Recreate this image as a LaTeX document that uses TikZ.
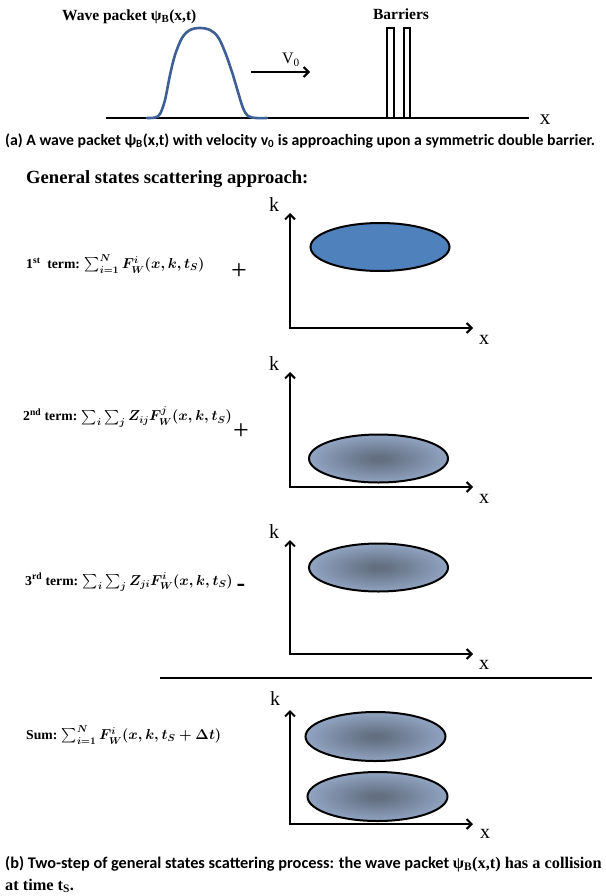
\documentclass[tikz,border=0pt]{standalone}
\usepackage{fontspec}
\setmainfont{Liberation Serif}
\newfontfamily\capfont{Carlito}
\usepackage{amsmath, bm}
\usetikzlibrary{arrows.meta}
\definecolor{packetblue}{RGB}{61,95,150}
\definecolor{fillblue}{RGB}{79,129,189}
\definecolor{blobmid}{RGB}{100,112,130}
\definecolor{blobmix}{RGB}{142,161,190}
\definecolor{blobedge}{RGB}{184,204,233}
\pgfdeclareradialshading{blobshade}{\pgfpoint{0bp}{0bp}}{color(0bp)=(blobmid); color(3bp)=(blobmid); color(24bp)=(blobmix); color(50bp)=(blobedge)}

\begin{document}
\begin{tikzpicture}[x=1pt, y=-1pt,
  toplbl/.style={font=\fontsize{15.5}{18}\selectfont\bfseries, inner sep=0pt},
  captxt/.style={font=\fontsize{15.8}{18}\selectfont\capfont\bfseries, inner sep=0pt, anchor=west},
  term/.style={font=\fontsize{13.7}{17}\selectfont\bfseries\boldmath, inner sep=0pt, anchor=west},
  axlbl/.style={font=\fontsize{20}{22}\selectfont, inner sep=0pt},
  axis/.style={line width=2pt, {Straight Barb[length=5pt,width=10pt]}-{Straight Barb[length=5pt,width=10pt]}},
  blob/.style={draw, line width=2pt, shading=blobshade},
  barrier/.style={draw, line width=1.5pt, fill=white}]
  \useasboundingbox (0,0) rectangle (605,896);

  % (a) wave packet and the double barrier
  \node[toplbl, anchor=west] (wavelbl) at (62,17) {Wave packet ψ\textsubscript{B}(x,t)};
  \node[toplbl] (barlbl) at (401,14) {Barriers};
  \coordinate (ba) at (106,118);
  \coordinate (bb) at (529,118);
  \draw[line width=2pt] (ba) -- (bb);
  \node[axlbl, font=\fontsize{21}{22}\selectfont] (xa) at (545,120) {x};
  \draw[packetblue, line width=2.6pt, line cap=round] plot[smooth, tension=0.55] coordinates {
    (147,118) (155,117.5) (160,114) (165,100) (170,75) (175,55) (182,38) (190,30) (200,28)
    (210,30) (218,37) (225,52) (232,72) (238,92) (243,108) (248,116) (256,118) (267,118)};
  \coordinate (va) at (251,72);
  \coordinate (vb) at (310,72);
  \draw[line width=2pt, -{Straight Barb[length=5pt,width=10pt]}] (va) -- (vb);
  \node[font=\fontsize{16}{18}\selectfont, inner sep=0pt] (vlbl) at (291,60) {V\textsubscript{0}};
  \draw[barrier] (387,118) rectangle (394,28);
  \draw[barrier] (404,118) rectangle (410,28);
  \node[captxt] (capa) at (5,141) {(a) A wave packet ψ\textsubscript{B}(x,t) with velocity v\textsubscript{0} is approaching upon a symmetric double barrier.};

  % (b) the terms of the scattering approach
  \node[font=\fontsize{18.6}{22}\selectfont\bfseries, inner sep=0pt, anchor=west] (head) at (26,179) {General states scattering approach:};

  \node[term] (term1) at (26,264) {1\textsuperscript{st}\ \ term: $\sum_{i=1}^{N} F_W^{i}(x,k,t_S)$};
  \node[font=\fontsize{28}{30}\selectfont, inner sep=0pt] (plus1) at (239,272) {+};
  \coordinate (k1) at (290,213);
  \coordinate (x1) at (473,328);
  \draw[axis] (k1) |- (x1);
  \node[axlbl] (klbl1) at (274,205) {k};
  \node[axlbl] (xlbl1) at (484,340) {x};
  \draw[line width=2pt, fill=fillblue] (380,247) ellipse [x radius=69.5pt, y radius=24pt];

  \node[term] (term2) at (23,417) {2\textsuperscript{nd}\ term: $\sum_{i}\sum_{j} Z_{ij}F_W^{j}(x,k,t_S)$};
  \node[font=\fontsize{28}{30}\selectfont, inner sep=0pt] (plus2) at (241,432) {+};
  \coordinate (k2) at (290,372);
  \coordinate (x2) at (473,487);
  \draw[axis] (k2) |- (x2);
  \node[axlbl] (klbl2) at (274,364) {k};
  \node[axlbl] (xlbl2) at (484,499) {x};
  \draw[blob] (378.5,458.5) ellipse [x radius=69.5pt, y radius=24pt];

  \node[term] (term3) at (25,582) {3\textsuperscript{rd}\ term: $\sum_{i}\sum_{j} Z_{ji}F_W^{i}(x,k,t_S)$};
  \node[font=\fontsize{26}{30}\selectfont\bfseries, inner sep=0pt] (minus3) at (241,588) {-};
  \coordinate (k3) at (290,540);
  \coordinate (x3) at (473,654);
  \draw[axis] (k3) |- (x3);
  \node[axlbl] (klbl3) at (274,532) {k};
  \node[axlbl] (xlbl3) at (484,665) {x};
  \draw[blob] (378.5,567.5) ellipse [x radius=69.5pt, y radius=24pt];

  \coordinate (sa) at (160,678);
  \coordinate (sb) at (592,678);
  \draw[line width=1.5pt] (sa) -- (sb);

  \node[term] (sum) at (26,735) {Sum: $\sum_{i=1}^{N} F_W^{i}(x,k,t_S+\Delta t)$};
  \coordinate (k4) at (290,710);
  \coordinate (x4) at (473,824);
  \draw[axis] (k4) |- (x4);
  \node[axlbl] (klbl4) at (275,699) {k};
  \node[axlbl] (xlbl4) at (485,834) {x};
  \draw[blob] (375.5,736.5) ellipse [x radius=70pt, y radius=24.5pt];
  \draw[blob] (377.5,796.5) ellipse [x radius=70pt, y radius=24.5pt];

  \node[captxt, font=\fontsize{16.3}{18}\selectfont\capfont\bfseries] (capb) at (5,864) {(b) Two-step of general states scattering process: the wave packet {\rmfamily ψ\textsubscript{B}(x,t) has a collision}};
  \node[toplbl, font=\fontsize{16.3}{18}\selectfont\bfseries, anchor=west] (capb2) at (5,886) {at time t\textsubscript{S}.};
\end{tikzpicture}
\end{document}
